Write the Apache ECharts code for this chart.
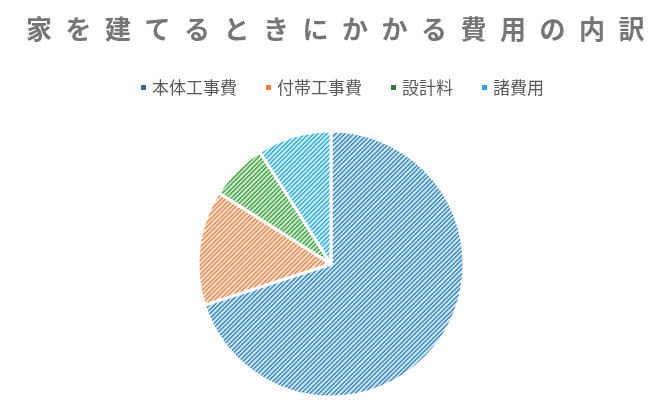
<!DOCTYPE html>
<html>
<head>
<meta charset="utf-8">
<script src="https://cdn.jsdelivr.net/npm/echarts@6/dist/echarts.min.js"></script>
<style>
  html, body { margin: 0; padding: 0; background: #fff; }
  #chart { width: 660px; height: 409px; }
</style>
</head>
<body>
<div id="chart"></div>
<script>
// datos
const titulo = '家を建てるときにかかる費用の内訳';
const categorias = ['本体工事費', '付帯工事費', '設計料', '諸費用'];
const valores = [70, 14, 7, 9];

// colores: fondo claro, raya, marcador de la leyenda
const fondos = ['#c0e1f4', '#fcdcc8', '#c2e8bf', '#c6eafa'];
const rayas = ['#4e90c2', '#f0915c', '#58a95e', '#3fb3e8'];
const marcadores = ['#2f6f96', '#ee7e3a', '#2f7d35', '#2ba6de'];

// el titulo lleva espaciado entre letras (canvas letterSpacing)
const fillTextOrig = CanvasRenderingContext2D.prototype.fillText;
CanvasRenderingContext2D.prototype.fillText = function (t, x, y, w) {
  if (t === titulo) {
    const prev = this.letterSpacing;
    this.letterSpacing = '13.5px';
    fillTextOrig.call(this, t, x, y);
    this.letterSpacing = prev;
    return;
  }
  return fillTextOrig.apply(this, arguments);
};

// trama diagonal "/" tipo Excel
const trama = (fondo, raya) => {
  const c = document.createElement('canvas');
  c.width = 9;
  c.height = 9;
  const ctx = c.getContext('2d');
  ctx.fillStyle = fondo;
  ctx.fillRect(0, 0, 9, 9);
  ctx.fillStyle = raya;
  for (let x = 0; x < 9; x++) {
    for (let y = 0; y < 9; y++) {
      if (((x + y) % 4.5) < 2) ctx.fillRect(x, y, 1, 1);
    }
  }
  return { image: c, repeat: 'repeat' };
};

let myChart = echarts.init(document.getElementById('chart'));
const option = {
  animation: false,
  title: {
    text: titulo,
    left: 21,
    top: 11,
    textStyle: {
      fontFamily: 'Noto Sans CJK JP',
      fontSize: 26,
      fontWeight: 'bold',
      color: '#767676'
    }
  },
  legend: {
    left: 134,
    top: 74,
    itemWidth: 7,
    itemHeight: 7,
    itemGap: 27,
    icon: 'rect',
    selectedMode: false,
    textStyle: {
      fontFamily: 'Noto Sans CJK JP',
      fontSize: 17,
      color: '#595959'
    },
    data: categorias.map((c, i) => ({ name: c, itemStyle: { color: marcadores[i] } }))
  },
  series: [
    {
      name: '費用',
      type: 'pie',
      center: [331, 264],
      radius: [0, 133],
      startAngle: 90,
      clockwise: true,
      label: { show: false },
      labelLine: { show: false },
      itemStyle: {
        borderColor: '#fff',
        borderWidth: 3
      },
      emphasis: { disabled: true },
      data: categorias.map((c, i) => ({
        name: c,
        value: valores[i],
        itemStyle: { color: trama(fondos[i], rayas[i]) }
      }))
    }
  ]
};
myChart.setOption(option);
</script>
</body>
</html>
